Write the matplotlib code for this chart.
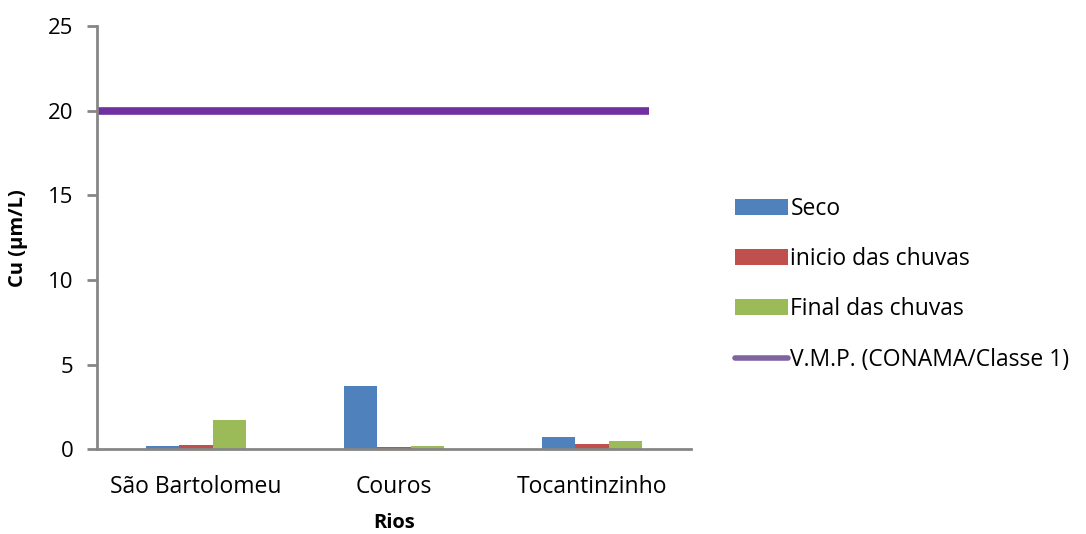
import numpy as np
import matplotlib.pyplot as plt

rios = ['São Bartolomeu', 'Couros', 'Tocantinzinho']
seco = [0.20, 3.75, 0.72]
inicio = [0.27, 0.12, 0.31]
final = [1.70, 0.21, 0.45]
vmp = 20
series_names = ['Seco', 'inicio das chuvas', 'Final das chuvas',
                'V.M.P. (CONAMA/Classe 1)']

plt.rcParams['font.family'] = ['Open Sans', 'DejaVu Sans']

fig = plt.figure(figsize=(10.86, 5.34), dpi=100)
ax = fig.add_axes([0.0893, 0.159, 0.5470, 0.792])

x = np.arange(len(rios))
w = 0.167
cores = ['#4f81bd', '#c0504d', '#9bbb59']
handles = []
for k, (vals, c) in enumerate(zip([seco, inicio, final], cores)):
    b = ax.bar(x + (k - 1) * w, vals, w, color=c, label=series_names[k])
    handles.append(b)

ax.plot([-0.5, 2.29], [vmp, vmp], color='#7030a0', lw=5.5,
        solid_capstyle='butt')
ln, = ax.plot([], [], color='#8064a2', lw=4, solid_capstyle='round',
              label=series_names[3])
handles.append(ln)

ax.set_xlim(-0.5, 2.5)
ax.set_ylim(0, 25)
ax.set_yticks([0, 5, 10, 15, 20, 25])
ax.set_xticks(x)
ax.set_xticklabels(rios, fontsize=16.5)
ax.tick_params(axis='x', length=0, pad=19)
ax.tick_params(axis='y', length=7, width=2, color='#868686', labelsize=16,
               pad=10)
for s in ['top', 'right']:
    ax.spines[s].set_visible(False)
for s in ['left', 'bottom']:
    ax.spines[s].set_color('#868686')
    ax.spines[s].set_linewidth(2)

ax.set_xlabel('Rios', fontsize=14.5, fontweight='bold', labelpad=10)
ax.set_ylabel('Cu (µm/L)', fontsize=14.5, fontweight='bold', labelpad=14)

leg = ax.legend(handles, series_names, loc='center left',
                bbox_to_anchor=(1.04, 0.39), frameon=False,
                fontsize=16.5, handlelength=2.3, handleheight=0.7,
                handletextpad=0.1, labelspacing=1.15)

fig.savefig('out.png', dpi=100)
